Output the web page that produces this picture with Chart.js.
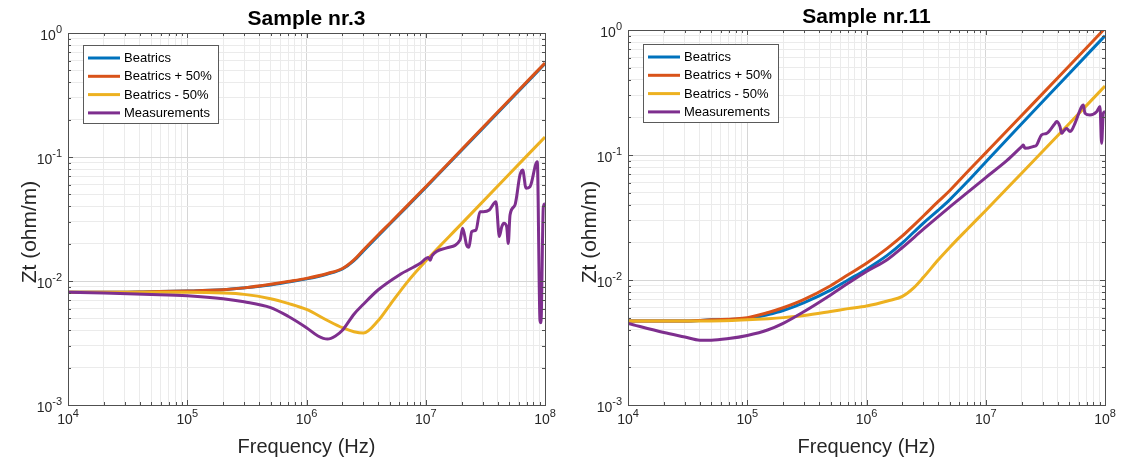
<!DOCTYPE html>
<html><head><meta charset="utf-8">
<script src="https://cdn.jsdelivr.net/npm/chart.js@4.4.1/dist/chart.umd.min.js"></script>
<style>
html,body{margin:0;padding:0;background:#fff;width:1123px;height:461px;overflow:hidden}
.wrap{position:absolute;top:0;height:461px}
canvas{display:block}
</style></head><body>
<div class="wrap" style="left:0;width:560px"><canvas id="c1" width="560" height="461"></canvas></div>
<div class="wrap" style="left:560px;width:563px"><canvas id="c2" width="563" height="461"></canvas></div>
<script>
const seriesNames = ['Beatrics', 'Beatrics + 50%', 'Beatrics - 50%', 'Measurements'];
const seriesColors = ['#0072BD', '#D95319', '#EDB120', '#7E2F8E'];
const xDecades = [4, 5, 6, 7, 8];
const yDecades = [-3, -2, -1, 0];
const chartTitles = ['Sample nr.3', 'Sample nr.11'];
const xAxisTitle = 'Frequency (Hz)';
const yAxisTitle = 'Zt (ohm/m)';

// ---- Sample nr.3 ----
const s3Freq = [1e4, 2e4, 5e4, 1e5, 2e5, 3e5, 5e5, 7e5, 1e6, 1.5e6, 2e6, 2.5e6, 3e6, 4e6, 5e6, 7e6, 1e7, 2e7, 5e7, 1e8];
const s3Beatrics = [0.0081, 0.0081, 0.0082, 0.0083, 0.0085, 0.0088, 0.0093, 0.0098, 0.0104, 0.0114, 0.0125, 0.0146, 0.0175, 0.0232, 0.0288, 0.0400, 0.0568, 0.1135, 0.283, 0.566];
const s3Plus50 = [0.0081, 0.0081, 0.0082, 0.0083, 0.0085, 0.0088, 0.0094, 0.0099, 0.0105, 0.0115, 0.0126, 0.0148, 0.0178, 0.0236, 0.0292, 0.0405, 0.0575, 0.115, 0.287, 0.573];
const s3Minus50 = [0.0081, 0.0081, 0.0081, 0.0081, 0.0080, 0.0078, 0.0072, 0.0066, 0.0059, 0.0048, 0.0042, 0.0039, 0.0038, 0.0048, 0.0064, 0.0098, 0.0145, 0.0290, 0.0725, 0.145];
const s3MeasFreq = [1e4, 2e4, 5e4, 1e5, 2e5, 3e5, 5e5, 7e5, 1e6, 1.25e6, 1.5e6, 1.75e6, 2e6, 2.5e6, 3e6, 4e6, 6e6, 9e6, 1.05e7, 1.09e7, 1.13e7, 1.5e7, 1.94e7, 2.04e7, 2.2e7, 2.3e7, 2.43e7, 2.64e7, 2.85e7, 3.04e7, 3.41e7, 3.88e7, 4.14e7, 4.34e7, 4.53e7, 4.77e7, 4.92e7, 5.09e7, 5.6e7, 6.17e7, 6.5e7, 6.93e7, 7.48e7, 8.61e7, 9.08e7, 9.25e7, 9.68e7, 1e8];
const s3Meas = [0.0081, 0.0080, 0.0078, 0.0076, 0.0072, 0.0068, 0.0061, 0.0052, 0.0042, 0.0036, 0.0034, 0.0036, 0.0040, 0.0054, 0.0065, 0.0085, 0.0112, 0.0139, 0.0155, 0.0147, 0.0160, 0.0185, 0.0214, 0.0266, 0.0195, 0.0187, 0.0250, 0.0258, 0.0362, 0.0362, 0.0374, 0.0436, 0.0228, 0.0274, 0.0292, 0.0274, 0.0201, 0.0341, 0.0410, 0.0716, 0.0785, 0.0560, 0.0576, 0.0917, 0.0048, 0.0046, 0.0397, 0.042];

// ---- Sample nr.11 ----
const s11Freq = [1e4, 2e4, 3e4, 5e4, 1e5, 1.5e5, 2e5, 3e5, 5e5, 7e5, 1e6, 1.5e6, 2e6, 2.5e6, 3e6, 4e6, 5e6, 7e6, 1e7, 2e7, 5e7, 1e8];
const s11Beatrics = [0.0047, 0.0047, 0.0047, 0.0048, 0.0049, 0.0053, 0.0057, 0.0066, 0.0083, 0.0100, 0.0122, 0.0158, 0.0198, 0.0242, 0.0285, 0.0362, 0.0440, 0.061, 0.088, 0.178, 0.447, 0.90];
const s11Plus50 = [0.0047, 0.0047, 0.0047, 0.0048, 0.0050, 0.0055, 0.0060, 0.0070, 0.0090, 0.0110, 0.0136, 0.0180, 0.0225, 0.0275, 0.0325, 0.0425, 0.052, 0.073, 0.104, 0.207, 0.515, 1.03];
const s11Minus50 = [0.0047, 0.0047, 0.0047, 0.0047, 0.0048, 0.0049, 0.0050, 0.0052, 0.0056, 0.0059, 0.0062, 0.0068, 0.0074, 0.0087, 0.0105, 0.0145, 0.0183, 0.0255, 0.0360, 0.0715, 0.178, 0.356];
const s11MeasFreq = [1e4, 2e4, 3e4, 4e4, 5e4, 7e4, 1e5, 1.5e5, 2e5, 3e5, 5e5, 7e5, 1e6, 1.5e6, 2e6, 3e6, 5e6, 7e6, 1e7, 1.5e7, 2e7, 2.07e7, 2.13e7, 2.51e7, 2.67e7, 2.94e7, 3.24e7, 3.81e7, 3.93e7, 4.19e7, 4.33e7, 4.47e7, 4.77e7, 5.09e7, 5.26e7, 5.6e7, 6.38e7, 6.58e7, 6.79e7, 7.48e7, 8.51e7, 9.07e7, 9.37e7, 9.68e7, 1e8];
const s11Meas = [0.0045, 0.0038, 0.0035, 0.0033, 0.0033, 0.0034, 0.0036, 0.0040, 0.0045, 0.0056, 0.0076, 0.0094, 0.0117, 0.0146, 0.0182, 0.0255, 0.0385, 0.050, 0.066, 0.090, 0.1166, 0.120, 0.113, 0.117, 0.120, 0.145, 0.149, 0.179, 0.185, 0.169, 0.149, 0.154, 0.163, 0.154, 0.158, 0.179, 0.244, 0.251, 0.216, 0.209, 0.222, 0.244, 0.124, 0.216, 0.222];

const FONT = "'Liberation Sans', Arial, Helvetica, sans-serif";
const isPow10 = v => Math.abs(Math.log10(v) - Math.round(Math.log10(v))) < 1e-6;
function logTicks(decs) {
  const out = [];
  for (let i = 0; i < decs.length - 1; i++) {
    for (let m = 1; m < 10; m++) out.push(parseFloat((m * Math.pow(10, decs[i])).toPrecision(6)));
  }
  out.push(Math.pow(10, decs[decs.length - 1]));
  return out;
}
const xTickValues = logTicks(xDecades);
const yTickValues = logTicks(yDecades);

function pts(fr, vals) { return fr.map((f, i) => ({ x: f, y: vals[i] })); }

function drawPow(ctx, exp, x, baseY, align) {
  const base = '10', ex = String(exp);
  ctx.font = '14px ' + FONT;
  const wb = ctx.measureText(base).width;
  ctx.font = '11px ' + FONT;
  const we = ctx.measureText(ex).width;
  const total = wb + we;
  const sx = align === 'center' ? x - total / 2 : x - total;
  ctx.textAlign = 'left';
  ctx.textBaseline = 'alphabetic';
  ctx.font = '14px ' + FONT;
  ctx.fillText(base, sx, baseY);
  ctx.font = '11px ' + FONT;
  ctx.fillText(ex, sx + wb, baseY - 7);
}

const decor = {
  id: 'decor',
  afterDraw(chart, args, opts) {
    const { ctx, chartArea: a, scales: { x, y } } = chart;
    ctx.save();
    // inner tick marks
    ctx.strokeStyle = '#505050';
    ctx.lineWidth = 1;
    ctx.beginPath();
    x.ticks.forEach(t => {
      const px = Math.round(x.getPixelForValue(t.value)) + 0.5;
      const L = isPow10(t.value) ? 5 : 3;
      ctx.moveTo(px, a.bottom); ctx.lineTo(px, a.bottom - L);
      ctx.moveTo(px, a.top); ctx.lineTo(px, a.top + L);
    });
    y.ticks.forEach(t => {
      const py = Math.round(y.getPixelForValue(t.value)) + 0.5;
      const L = isPow10(t.value) ? 5 : 3;
      ctx.moveTo(a.left, py); ctx.lineTo(a.left + L, py);
      ctx.moveTo(a.right, py); ctx.lineTo(a.right - L, py);
    });
    ctx.stroke();
    // box
    ctx.strokeRect(Math.round(a.left) + 0.5, Math.round(a.top) + 0.5, Math.round(a.right - a.left), Math.round(a.bottom - a.top));
    // tick labels
    ctx.fillStyle = '#262626';
    xDecades.forEach(e => drawPow(ctx, e, x.getPixelForValue(Math.pow(10, e)), a.bottom + 19, 'center'));
    yDecades.forEach(e => drawPow(ctx, e, a.left - 6, y.getPixelForValue(Math.pow(10, e)) + 7, 'right'));
    // axis titles
    ctx.fillStyle = '#262626';
    ctx.font = '20px ' + FONT;
    ctx.textAlign = 'center';
    ctx.textBaseline = 'middle';
    ctx.fillText(xAxisTitle, (a.left + a.right) / 2, opts.xTitleY);
    ctx.save();
    ctx.translate(opts.yTitleX, opts.yTitleY);
    ctx.rotate(-Math.PI / 2);
    ctx.font = '21px ' + FONT;
    ctx.fillText(yAxisTitle, 0, 0);
    ctx.restore();
    // title
    ctx.fillStyle = '#000';
    ctx.font = 'bold 21px ' + FONT;
    ctx.textAlign = 'center';
    ctx.textBaseline = 'alphabetic';
    ctx.fillText(opts.title, (a.left + a.right) / 2, opts.titleY);
    // legend
    const lx = a.left + 15, ly = a.top + opts.legendDy, lw = 135, lh = 78;
    ctx.fillStyle = '#fff';
    ctx.fillRect(lx, ly, lw, lh);
    ctx.strokeStyle = '#5a5a5a';
    ctx.lineWidth = 1;
    ctx.strokeRect(Math.round(lx) + 0.5, Math.round(ly) + 0.5, lw, lh);
    ctx.font = '13px ' + FONT;
    ctx.textAlign = 'left';
    ctx.textBaseline = 'middle';
    chart.data.datasets.forEach((ds, i) => {
      const ry = ly + 13 + i * 18.3;
      ctx.strokeStyle = ds.borderColor;
      ctx.lineWidth = 3;
      ctx.beginPath();
      ctx.moveTo(lx + 5, ry); ctx.lineTo(lx + 37, ry);
      ctx.stroke();
      ctx.fillStyle = '#000';
      ctx.fillText(ds.label, lx + 41, ry + 0.5);
    });
    ctx.restore();
  }
};

function makeChart(id, title, fr, b, p, m, mf, mv, pad, titleY, legendDy, yTitleY) {
  const vals = [b, p, m, mv];
  const freqs = [fr, fr, fr, mf];
  const datasets = seriesNames.map((n, i) => ({
    label: n,
    data: pts(freqs[i], vals[i]),
    borderColor: seriesColors[i],
    backgroundColor: seriesColors[i],
    borderWidth: 3,
    pointRadius: 0,
    fill: false,
    cubicInterpolationMode: 'monotone',
    order: 3 - i
  }));
  const gridColor = c => (c.tick && isPow10(c.tick.value)) ? '#d6d6d6' : '#ebebeb';
  return new Chart(document.getElementById(id), {
    type: 'line',
    data: { datasets },
    plugins: [decor],
    options: {
      responsive: false,
      animation: false,
      devicePixelRatio: 1,
      events: [],
      layout: { padding: pad },
      plugins: {
        legend: { display: false },
        title: { display: false },
        tooltip: { enabled: false },
        decor: { title, titleY, legendDy, xTitleY: 447, yTitleX: 30, yTitleY }
      },
      scales: {
        x: {
          type: 'logarithmic', min: 1e4, max: 1e8,
          afterBuildTicks: s => { s.ticks = xTickValues.map(v => ({ value: v })); },
          afterFit: s => { s.height = 56; },
          ticks: { display: false, autoSkip: false },
          grid: { color: gridColor, drawTicks: false, tickLength: 0 },
          border: { display: false },
          title: { display: false }
        },
        y: {
          type: 'logarithmic', min: 1e-3, max: 1,
          afterBuildTicks: s => { s.ticks = yTickValues.map(v => ({ value: v })); },
          afterFit: s => { s.width = 68; },
          ticks: { display: false, autoSkip: false },
          grid: { color: gridColor, drawTicks: false, tickLength: 0 },
          border: { display: false },
          title: { display: false }
        }
      }
    }
  });
}

makeChart('c1', chartTitles[0], s3Freq, s3Beatrics, s3Plus50, s3Minus50, s3MeasFreq, s3Meas,
  { top: 33, right: 15, left: 0, bottom: 0 }, 25, 12, 232);
makeChart('c2', chartTitles[1], s11Freq, s11Beatrics, s11Plus50, s11Minus50, s11MeasFreq, s11Meas,
  { top: 30, right: 18, left: 0, bottom: 0 }, 23, 14, 232);
</script>
</body></html>
